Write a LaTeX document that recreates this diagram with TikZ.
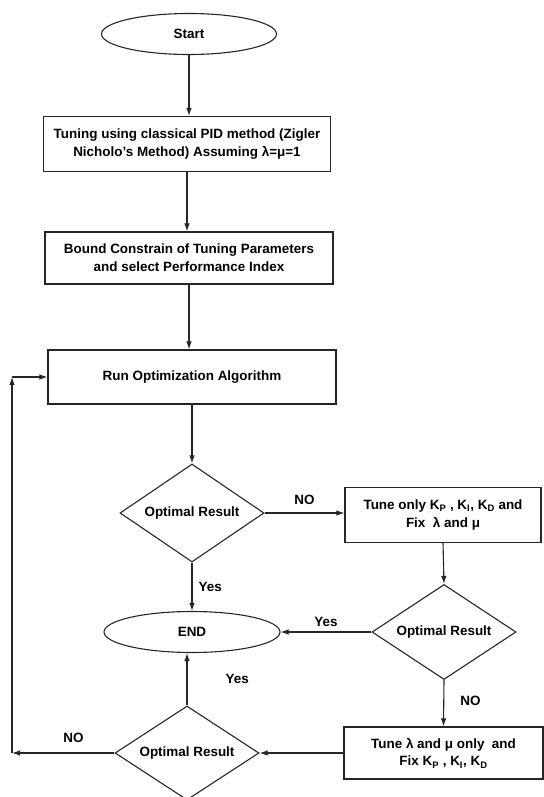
\documentclass[tikz,border=0pt]{standalone}
\usepackage{fontspec}
\setmainfont{Liberation Sans}
\usetikzlibrary{shapes.geometric,arrows.meta}

\tikzset{
  block/.style={draw=black!85,line width=1.1bp,rectangle,align=center,inner sep=0pt},
  term/.style={draw=black!85,line width=1.1bp,ellipse,inner sep=0pt},
  decision/.style={draw=black!85,line width=1.1bp,diamond,aspect=1.5,inner sep=0pt,minimum width=144bp},
  lbl/.style={inner sep=0pt},
  flow/.style={->,draw=black!85,line width=1.1bp}
}

\begin{document}
\begin{tikzpicture}[x=1bp,y=-1bp,>={Latex[length=8bp,width=5.5bp]},
    every node/.style={font=\fontsize{13.5}{18}\selectfont\bfseries}]
      \useasboundingbox (0,0) rectangle (544,797);
      \node[term,minimum width=175bp,minimum height=41bp] (start) at (189,34) {Start};
      \node[block,minimum width=287bp,minimum height=55bp] (tune) at (187,144)
        {Tuning using classical PID method (Zigler\\Nicholo’s Method) Assuming λ=μ=1};
      \node[block,minimum width=288bp,minimum height=52bp] (bound) at (189,258)
        {Bound Constrain of Tuning Parameters\\and select Performance Index};
      \node[block,minimum width=288bp,minimum height=54bp] (run) at (192,377) {Run Optimization Algorithm};
      \node[decision,minimum height=98bp] (opt1) at (192,513) {Optimal Result};
      \node[block,minimum width=196bp,minimum height=55bp] (kfix) at (443,515)
        {Tune only K\textsubscript{P} , K\textsubscript{I}, K\textsubscript{D} and\\Fix~ λ and μ};
      \node[decision,minimum height=95bp] (opt2) at (444,632) {Optimal Result};
      \node[term,minimum width=176bp,minimum height=41bp] (endn) at (192,632) {END};
      \node[block,minimum width=199bp,minimum height=52bp] (lmfix) at (443.5,753)
        {Tune λ and μ only~ and\\Fix K\textsubscript{P} , K\textsubscript{I}, K\textsubscript{D}};
      \node[decision,minimum height=94bp] (opt3) at (187,753) {Optimal Result};
      \coordinate (fb) at (12,753);
      \coordinate (fbtop) at (12,377);

      \draw[flow] (start.south) -- (start.south |- tune.north);
      \draw[flow] (tune.south) -- (tune.south |- bound.north);
      \draw[flow] (bound.south) -- (bound.south |- run.north);
      \draw[flow] (run.south) -- (opt1.north);
      \draw[flow] (opt1.south) -- (endn.north) node[lbl,pos=0.5,right=6bp] {Yes};
      \draw[flow] (opt1.east) -- (opt1.east -| kfix.west) node[lbl,pos=0.5,above=8bp] {NO};
      \draw[flow] (kfix.south) -- (opt2.north);
      \draw[flow] (opt2.west) -- (endn.east) node[lbl,pos=0.5,above=5bp] {Yes};
      \draw[flow] (opt2.south) -- (lmfix.north) node[lbl,pos=0.45,right=16bp] {NO};
      \draw[flow] (lmfix.west) -- (opt3.east);
      \draw[flow] (opt3.north) -- (opt3.north |- endn.south) node[lbl,pos=0.5,right=38bp] {Yes};
      \draw[flow] (opt3.west) -- (fb) node[lbl,pos=0.4,above=10bp] {NO};
      \draw[flow] (fb) -- (fbtop);
      \draw[flow] (fbtop) -- (run.west);
\end{tikzpicture}
\end{document}
